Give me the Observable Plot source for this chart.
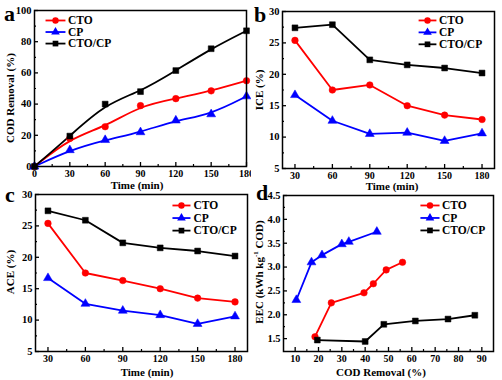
<!DOCTYPE html>
<html><head><meta charset="utf-8">
<script src="https://cdn.jsdelivr.net/npm/d3@7"></script>
<script src="https://cdn.jsdelivr.net/npm/@observablehq/plot@0.6"></script>
<style>
body{margin:0;background:#fff}
#root{position:relative;width:502px;height:380px;overflow:hidden;font-family:"Liberation Serif","Times New Roman",serif;font-weight:bold;background:#fff}
.panel{position:absolute}
.letter{position:absolute;font-size:22px;font-weight:bold;line-height:1}
.lab{position:absolute;white-space:nowrap;font-size:11px;line-height:1}
</style></head><body><div id="root"></div>
<script>
// ---- data ----
const series = ["CTO", "CP", "CTO/CP"];
const colors = ["#ff0000", "#0000ff", "#000000"];
const symbols = ["circle", "triangle", "square"];

const timeA = [0, 30, 60, 90, 120, 150, 180];
const codCTO = [0, 18, 25.5, 39, 43.5, 48.5, 55];
const codCP = [0, 10.5, 17, 22, 29.5, 33.5, 45];
const codCTOCP = [0, 19.5, 40, 48, 61.5, 75.5, 87];

const timeB = [30, 60, 90, 120, 150, 180];
const iceCTO = [25.4, 17.5, 18.3, 15.0, 13.5, 12.8];
const iceCP = [16.7, 12.6, 10.5, 10.7, 9.4, 10.6];
const iceCTOCP = [27.4, 27.9, 22.3, 21.5, 21.0, 20.2];

const aceCTO = [25.4, 17.5, 16.3, 15.0, 13.5, 12.9];
const aceCP = [16.7, 12.6, 11.5, 10.8, 9.4, 10.6];
const aceCTOCP = [27.4, 25.9, 22.3, 21.5, 21.0, 20.2];

const remCTO = [18.5, 25.5, 39.5, 43.5, 49, 56];
const eecCTO = [1.54, 2.25, 2.46, 2.65, 2.94, 3.10];
const remCP = [10.5, 17, 21.5, 30, 33, 45];
const eecCP = [2.31, 3.10, 3.25, 3.48, 3.53, 3.74];
const remCTOCP = [19.5, 40, 48, 61.5, 75.5, 87];
const eecCTOCP = [1.47, 1.44, 1.80, 1.87, 1.91, 1.99];

const ticksTime = [0, 30, 60, 90, 120, 150, 180];
const ticksTime2 = [30, 60, 90, 120, 150, 180];
const ticksCOD = [0, 20, 40, 60, 80, 100];
const ticksEff = [5, 10, 15, 20, 25, 30];
const ticksRem = [10, 20, 30, 40, 50, 60, 70, 80, 90];
const ticksEEC = [1.5, 2.0, 2.5, 3.0, 3.5, 4.0, 4.5];

function rows(xs, ysList) {
  const out = [];
  ysList.forEach((ys, i) => ys.forEach((y, j) => out.push({s: series[i], x: (Array.isArray(xs[0]) ? xs[i] : xs)[j], y})));
  return out;
}

const root = document.getElementById("root");

function addLabel(html, x, y, rot) {
  const el = document.createElement("div");
  el.className = "lab";
  el.innerHTML = html;
  el.style.left = x + "px";
  el.style.top = y + "px";
  el.style.transform = "translate(-50%,-50%)" + (rot ? " rotate(-90deg)" : "");
  root.appendChild(el);
}

function panel(o) {
  const data = o.data;
  const [x0, x1] = o.xd, [y0, y1] = o.yd;
  const lx = f => x0 + f * (x1 - x0);
  const ly = f => y1 - f * (y1 - y0);
  const leg = series.map((s, i) => ({s, i}));
  const minorX = o.minorX || [], minorY = o.minorY || [];
  const marks = [
    Plot.axisX(o.xticks, {tickSize: -4, tickPadding: 7, fontSize: 10, tickFormat: o.xfmt || (d => d), label: null, strokeWidth: 1.3}),
    Plot.axisX(minorX, {tickSize: -2, tickFormat: () => "", label: null, strokeWidth: 1.2}),
    Plot.axisY(o.yticks, {tickSize: -4, tickPadding: 7, fontSize: 10.5, tickFormat: o.yfmt || (d => d), label: null, strokeWidth: 1.3}),
    Plot.axisY(minorY, {tickSize: -2, tickFormat: () => "", label: null, strokeWidth: 1.2}),
    ...series.map((s, i) => Plot.line(data.filter(d => d.s === s), {x: "x", y: "y", stroke: colors[i], strokeWidth: 1.8, curve: o.curve || "linear"})),
    ...series.map((s, i) => Plot.dot(data.filter(d => d.s === s), {x: "x", y: "y", fill: colors[i], stroke: colors[i], strokeWidth: 0.5, symbol: symbols[i], r: 3.3})),
    Plot.link(leg, {x1: () => lx(o.leg[0]), x2: () => lx(o.leg[1]), y1: d => ly(o.leg[3] + d.i * o.leg[4]), y2: d => ly(o.leg[3] + d.i * o.leg[4]), stroke: d => colors[d.i], strokeWidth: 1.8}),
    Plot.dot(leg, {x: () => lx((o.leg[0] + o.leg[1]) / 2), y: d => ly(o.leg[3] + d.i * o.leg[4]), fill: d => colors[d.i], symbol: d => symbols[d.i], r: 3.2}),
    Plot.text(leg, {x: () => lx(o.leg[2]), y: d => ly(o.leg[3] + d.i * o.leg[4]), text: "s", textAnchor: "start", fontSize: 11.5, fill: "black"}),
    Plot.frame({stroke: "black", strokeWidth: 1.5})
  ];
  const p = Plot.plot({
    width: 251, height: 190,
    marginLeft: o.m[0], marginRight: o.m[1], marginTop: o.m[2], marginBottom: o.m[3],
    x: {domain: o.xd}, y: {domain: o.yd},
    color: {type: "identity"}, symbol: {type: "identity"},
    style: {fontFamily: '"Liberation Serif","Times New Roman",serif', fontWeight: "bold", fontSize: "10.5px", color: "black", background: "transparent", overflow: "hidden"},
    marks
  });
  p.classList.add("panel");
  p.style.left = o.pos[0] + "px";
  p.style.top = o.pos[1] + "px";
  root.appendChild(p);
  addLabel(o.ylabel, o.ylab[0], o.ylab[1], true);
  addLabel(o.xlabel, o.xlab[0], o.xlab[1], false);
  const lt = document.createElement("div");
  lt.className = "letter";
  lt.textContent = o.letter;
  lt.style.left = o.lpos[0] + "px";
  lt.style.top = o.lpos[1] + "px";
  root.appendChild(lt);
}

panel({
  pos: [0, 0], m: [34, 5, 10, 24],
  data: rows(timeA, [codCTO, codCP, codCTOCP]), curve: "basis",
  xd: [0, 180], yd: [0, 100],
  xticks: ticksTime, minorX: [15, 45, 75, 105, 135, 165],
  yticks: ticksCOD, minorY: [10, 30, 50, 70, 90],
  xlabel: "Time (min)", xlab: [137, 185], ylabel: "COD Removal (%)", ylab: [10, 98],
  leg: [0.052, 0.146, 0.158, 0.064, 0.074], letter: "a", lpos: [4, 3]
});
panel({
  pos: [251, 0], m: [31, 8, 11, 22],
  data: rows(timeB, [iceCTO, iceCP, iceCTOCP]),
  xd: [20, 190], yd: [5, 30],
  xticks: ticksTime2, minorX: [45, 75, 105, 135, 165],
  yticks: ticksEff, minorY: [7.5, 12.5, 17.5, 22.5, 27.5],
  xlabel: "Time (min)", xlab: [392, 186], ylabel: "ICE (%)", ylab: [259, 90],
  leg: [0.642, 0.726, 0.738, 0.057, 0.076], letter: "b", lpos: [254, 4]
});
panel({
  pos: [0, 190], m: [35, 4, 4, 29],
  data: rows(timeB, [aceCTO, aceCP, aceCTOCP]),
  xd: [20, 190], yd: [5, 30],
  xticks: ticksTime2, minorX: [45, 75, 105, 135, 165],
  yticks: ticksEff, minorY: [7.5, 12.5, 17.5, 22.5, 27.5],
  xlabel: "Time (min)", xlab: [147, 372], ylabel: "ACE (%)", ylab: [10, 272],
  leg: [0.646, 0.731, 0.745, 0.070, 0.080], letter: "c", lpos: [5, 184]
});
panel({
  pos: [251, 190], m: [32, 9, 5, 29],
  data: rows([remCTO, remCP, remCTOCP], [eecCTO, eecCP, eecCTOCP]),
  xd: [5, 95], yd: [1.23, 4.5],
  xticks: ticksRem, minorX: [15, 25, 35, 45, 55, 65, 75, 85],
  yticks: ticksEEC, yfmt: d3.format(".1f"), minorY: [1.75, 2.25, 2.75, 3.25, 3.75, 4.25],
  xlabel: "COD Removal (%)", xlab: [381, 372], ylabel: "EEC (kWh kg<sup style='font-size:7px'>-1</sup> COD)", ylab: [259, 272],
  leg: [0.652, 0.743, 0.755, 0.064, 0.080], letter: "d", lpos: [256, 182]
});
</script></body></html>
